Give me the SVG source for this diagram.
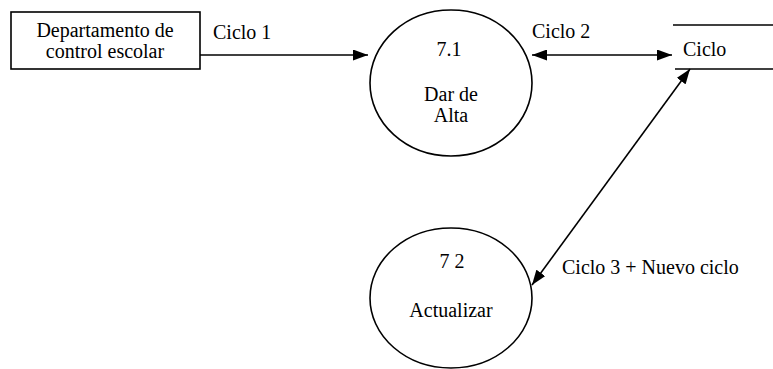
<svg xmlns="http://www.w3.org/2000/svg" width="773" height="369" viewBox="0 0 773 369">
<style>
text{font-family:"Liberation Serif","Times New Roman",serif;font-size:20px;fill:#000}
.c{text-anchor:middle}
.s{fill:none;stroke:#000;stroke-width:1.6}
.l{stroke:#000;stroke-width:1.6;fill:none}
</style>
<defs>
<marker id="ah" viewBox="0 0 15 11" refX="15" refY="5.5" markerWidth="15" markerHeight="11" markerUnits="userSpaceOnUse" orient="auto-start-reverse">
<path d="M0,0 L15,5.5 L0,11 Z" fill="#000"/>
</marker>
</defs>
<rect width="773" height="369" fill="#fff"/>
<g id="dept">
<rect class="s" x="11" y="12" width="189" height="57"/>
<text class="c" x="105" y="37">Departamento de</text>
<text class="c" x="105" y="58">control escolar</text>
</g>
<g id="p71">
<ellipse class="s" cx="451" cy="83" rx="81" ry="73"/>
<text class="c" x="449" y="56">7.1</text>
<text class="c" x="451" y="101">Dar de</text>
<text class="c" x="451" y="122">Alta</text>
</g>
<g id="p72">
<ellipse class="s" cx="451" cy="298" rx="81" ry="70"/>
<text class="c" x="452" y="268">7 2</text>
<text class="c" x="451" y="317">Actualizar</text>
</g>
<g id="store">
<line class="l" x1="673" y1="25" x2="773" y2="25"/>
<line class="l" x1="675" y1="69" x2="773" y2="69"/>
<text x="683" y="56">Ciclo</text>
</g>
<g id="connectors">
<line class="l" x1="200" y1="55" x2="368" y2="55" marker-end="url(#ah)"/>
<text x="213" y="39">Ciclo 1</text>
<line class="l" x1="532" y1="55" x2="672" y2="55" marker-start="url(#ah)" marker-end="url(#ah)"/>
<text x="532" y="38">Ciclo 2</text>
<line class="l" x1="690" y1="69" x2="532" y2="285" marker-start="url(#ah)" marker-end="url(#ah)"/>
<text x="562" y="274">Ciclo 3 + Nuevo ciclo</text>
</g>
</svg>
